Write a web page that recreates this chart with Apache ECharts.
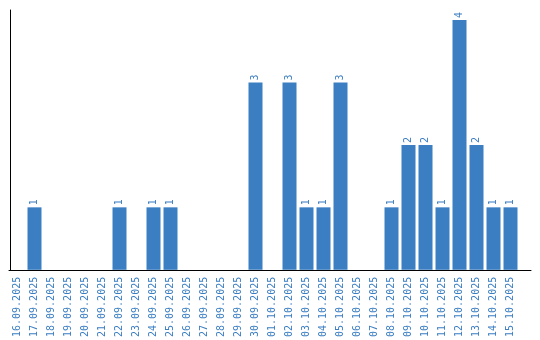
<!DOCTYPE html>
<html>
<head>
<meta charset="utf-8">
<script src="https://cdn.jsdelivr.net/npm/echarts@6/dist/echarts.min.js"></script>
<style>html,body{margin:0;padding:0;background:#fff}#c{width:540px;height:340px}</style>
</head>
<body>
<div id="c"></div>
<script>
const categories = ["16.09.2025","17.09.2025","18.09.2025","19.09.2025","20.09.2025","21.09.2025","22.09.2025","23.09.2025","24.09.2025","25.09.2025","26.09.2025","27.09.2025","28.09.2025","29.09.2025","30.09.2025","01.10.2025","02.10.2025","03.10.2025","04.10.2025","05.10.2025","06.10.2025","07.10.2025","08.10.2025","09.10.2025","10.10.2025","11.10.2025","12.10.2025","13.10.2025","14.10.2025","15.10.2025"];
const counts = [0,1,0,0,0,0,1,0,1,1,0,0,0,0,3,0,3,1,1,3,0,0,1,2,2,1,4,2,1,1];

const blue = '#3b7ec2';
const font = 'DejaVu Sans Mono';
const chart = echarts.init(document.getElementById('c'), null, {renderer:'canvas'});
chart.setOption({
  animation: false,
  backgroundColor: '#fff',
  grid: [
    {left: 9, right: 21, top: 10, bottom: 70},
    {left: 9, right: 9, top: 10, bottom: 70}
  ],
  xAxis: [
    {
      type: 'category', gridIndex: 0, data: categories,
      axisLine: {show: false}, axisTick: {show: false},
      axisLabel: {rotate: 90, interval: 0, margin: 7, fontFamily: font, fontSize: 10, color: blue}
    },
    {
      type: 'value', gridIndex: 1, min: 0, max: 1,
      axisLine: {show: true, onZero: false, lineStyle: {color: '#000', width: 1}},
      axisTick: {show: false}, axisLabel: {show: false}, splitLine: {show: false}
    }
  ],
  yAxis: [
    {
      type: 'value', gridIndex: 0, min: 0, max: 4.16, offset: -1,
      axisLine: {show: true, lineStyle: {color: '#000', width: 1}},
      axisTick: {show: false}, axisLabel: {show: false}, splitLine: {show: false}
    },
    {type: 'value', gridIndex: 1, show: false}
  ],
  series: [{
    type: 'bar', xAxisIndex: 0, yAxisIndex: 0, data: counts,
    barWidth: 14,
    itemStyle: {color: blue},
    label: {
      show: true, position: 'top', rotate: 90, align: 'left', verticalAlign: 'middle',
      distance: 2, fontFamily: font, fontSize: 10, color: blue,
      formatter: p => p.value ? String(p.value) : ''
    }
  }]
});
</script>
</body>
</html>
